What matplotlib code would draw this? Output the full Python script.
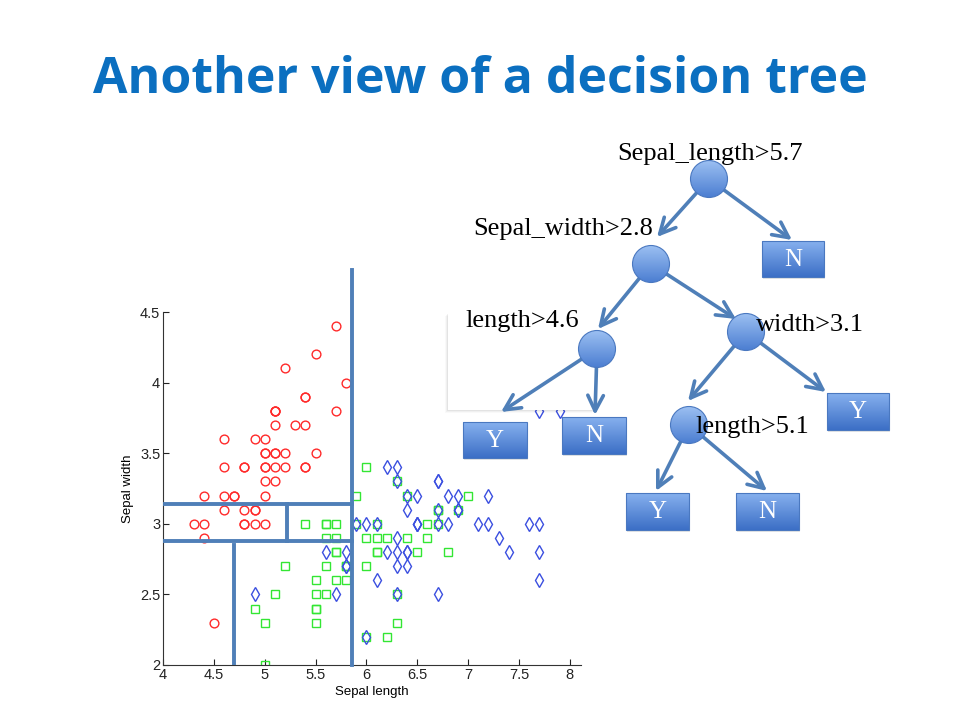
import numpy as np
from matplotlib import pyplot as plt
from matplotlib.patches import Circle, Rectangle
from matplotlib.colors import LinearSegmentedColormap

# iris data: sepal length / sepal width
setosa_len = [5.1,4.9,4.7,4.6,5.0,5.4,4.6,5.0,4.4,4.9,5.4,4.8,4.8,4.3,5.8,5.7,5.4,5.1,5.7,5.1,
              5.4,5.1,4.6,5.1,4.8,5.0,5.0,5.2,5.2,4.7,4.8,5.4,5.2,5.5,4.9,5.0,5.5,4.9,4.4,5.1,
              5.0,4.5,4.4,5.0,5.1,4.8,5.1,4.6,5.3,5.0]
setosa_wid = [3.5,3.0,3.2,3.1,3.6,3.9,3.4,3.4,2.9,3.1,3.7,3.4,3.0,3.0,4.0,4.4,3.9,3.5,3.8,3.8,
              3.4,3.7,3.6,3.3,3.4,3.0,3.4,3.5,3.4,3.2,3.1,3.4,4.1,4.2,3.1,3.2,3.5,3.6,3.0,3.4,
              3.5,2.3,3.2,3.5,3.8,3.0,3.8,3.2,3.7,3.3]
versi_len = [7.0,6.4,6.9,5.5,6.5,5.7,6.3,4.9,6.6,5.2,5.0,5.9,6.0,6.1,5.6,6.7,5.6,5.8,6.2,5.6,
             5.9,6.1,6.3,6.1,6.4,6.6,6.8,6.7,6.0,5.7,5.5,5.5,5.8,6.0,5.4,6.0,6.7,6.3,5.6,5.5,
             5.5,6.1,5.8,5.0,5.6,5.7,5.7,6.2,5.1,5.7]
versi_wid = [3.2,3.2,3.1,2.3,2.8,2.8,3.3,2.4,2.9,2.7,2.0,3.0,2.2,2.9,2.9,3.1,3.0,2.7,2.2,2.5,
             3.2,2.8,2.5,2.8,2.9,3.0,2.8,3.0,2.9,2.6,2.4,2.4,2.7,2.7,3.0,3.4,3.1,2.3,3.0,2.5,
             2.6,3.0,2.6,2.3,2.7,3.0,2.9,2.9,2.5,2.8]
virg_len = [6.3,5.8,7.1,6.3,6.5,7.6,4.9,7.3,6.7,7.2,6.5,6.4,6.8,5.7,5.8,6.4,6.5,7.7,7.7,6.0,
            6.9,5.6,7.7,6.3,6.7,7.2,6.2,6.1,6.4,7.2,7.4,7.9,6.4,6.3,6.1,7.7,6.3,6.4,6.0,6.9,
            6.7,6.9,5.8,6.8,6.7,6.7,6.3,6.5,6.2,5.9]
virg_wid = [3.3,2.7,3.0,2.9,3.0,3.0,2.5,2.9,2.5,3.6,3.2,2.7,3.0,2.5,2.8,3.2,3.0,3.8,2.6,2.2,
            3.2,2.8,2.8,2.7,3.3,3.2,2.8,3.0,2.8,3.0,2.8,3.8,2.8,2.8,2.6,3.0,3.4,3.1,3.0,3.1,
            3.1,3.1,2.7,3.2,3.3,3.0,2.5,3.0,3.4,3.0]

# split lines drawn over the scatter
split_len = 5.86      # vertical, full height
split_wid_lo = 2.88   # horizontal, left part
split_wid_hi = 3.14
split_len_mid = 5.22
split_len_lo = 4.70

x_ticks = [4, 4.5, 5, 5.5, 6, 6.5, 7, 7.5, 8]
y_ticks = [2, 2.5, 3, 3.5, 4, 4.5]
x_tick_labels = ['4', '4.5', '5', '5.5', '6', '6.5', '7', '7.5', '8']
y_tick_labels = ['2', '2.5', '3', '3.5', '4', '4.5']

# tree (slide layout, pixel coords)
node_xy = [(709, 179), (651, 264), (597, 349), (746, 332), (689, 425)]
node_text = ['Sepal_length>5.7', 'Sepal_width>2.8', 'length>4.6', 'width>3.1', 'length>5.1']
node_text_xy = [(710, 154), (563, 229), (522, 321), (810, 325), (752, 427)]
leaf_text = ['N', 'Y', 'N', 'Y', 'Y', 'N']
leaf_box = [(762, 241, 824, 277), (463, 422, 527, 458), (562, 417, 626, 454),
            (827, 393, 889, 430), (626, 493, 689, 530), (736, 493, 799, 530)]
arrows = [((709, 179), (657, 237)), ((709, 179), (792, 240)),
          ((651, 264), (598, 329)), ((651, 264), (736, 319)),
          ((597, 349), (501, 412)), ((597, 349), (595, 415)),
          ((746, 332), (688, 401)), ((746, 332), (826, 392)),
          ((689, 425), (656, 491)), ((689, 425), (767, 491))]

line_c = '#4f7fb8'
plt.close('all')
fig = plt.figure(figsize=(9.6, 7.2), dpi=100)

#%% scatter
ax = fig.add_axes([163/960, 1-665/720, 418/960, 353/720])
ax.plot(setosa_len, setosa_wid, 'o', mfc='none', mec='#ff2a2a', ms=6.3, mew=1.0)
ax.plot(versi_len, versi_wid, 's', mfc='none', mec='#33e633', ms=5.8, mew=1.0)
ax.plot(virg_len, virg_wid, 'd', mfc='none', mec='#3b4fe0', ms=7, mew=1.0)

ax.plot([split_len, split_len], [2, 4.8], color=line_c, lw=2.8, clip_on=False, zorder=5)
ax.plot([4.02, split_len], [split_wid_lo, split_wid_lo], color=line_c, lw=2.8, zorder=5)
ax.plot([4.02, split_len], [split_wid_hi, split_wid_hi], color=line_c, lw=2.8, zorder=5)
ax.plot([split_len_mid, split_len_mid], [split_wid_lo, split_wid_hi], color=line_c, lw=2.8, zorder=5)
ax.plot([split_len_lo, split_len_lo], [2, split_wid_lo - 0.03], color=line_c, lw=2.8, zorder=5)

ax.set_xlim(4, 8.11); ax.set_ylim(2, 4.5)
ax.set_xticks(x_ticks); ax.set_xticklabels(x_tick_labels)
ax.set_yticks(y_ticks); ax.set_yticklabels(y_tick_labels)
ax.tick_params(direction='in', length=4, width=0.8, labelsize=10.5, pad=2, colors='#222222')
for s in ['top', 'right']:
    ax.spines[s].set_visible(False)
for s in ['left', 'bottom']:
    ax.spines[s].set_color('#333333')
ax.set_xlabel('Sepal length', fontsize=9.5, labelpad=3)
ax.set_ylabel('Sepal width', fontsize=9.5, labelpad=4)
for t in ax.get_xticklabels() + ax.get_yticklabels() + [ax.xaxis.label, ax.yaxis.label]:
    t.set_family('Liberation Sans')

#%% slide overlay in pixels
ov = fig.add_axes([0, 0, 1, 1])
ov.set_xlim(0, 960); ov.set_ylim(720, 0)
ov.axis('off')
ov.patch.set_alpha(0)

fig.text(0.5, 1-80/720, 'Another view of a decision tree', ha='center', va='center',
         fontsize=36, fontweight='bold', color='#0b6fc0', family='Open Sans')

# white box with soft shadow
bx0, by0, bx1, by1 = 448, 313, 595, 410
for k, a in enumerate([0.025, 0.035, 0.05]):
    d = 3 - k
    ov.add_patch(Rectangle((bx0 - d, by0 + d), bx1 - bx0, by1 - by0, fc='#000000',
                           ec='none', alpha=a, zorder=1))
ov.add_patch(Rectangle((bx0, by0), bx1 - bx0, by1 - by0, fc='white', ec='none', zorder=2))

grad = np.linspace(0, 1, 64).reshape(-1, 1)
cmap_node = LinearSegmentedColormap.from_list('node', ['#9cc0f2', '#4d7fd2'])
cmap_leaf = LinearSegmentedColormap.from_list('leaf', ['#86b0ee', '#3c6fc6'])

for (p, q) in arrows:
    ov.annotate('', xy=q, xytext=p,
                arrowprops=dict(arrowstyle='->', lw=2.6, color=line_c,
                                mutation_scale=28, shrinkA=0, shrinkB=0), zorder=3)

r = 18.5
for (cx, cy) in node_xy:
    c = Circle((cx, cy), r, fc='none', ec='#4a78c0', lw=0.8, zorder=6)
    ov.add_patch(c)
    im = ov.imshow(grad, cmap=cmap_node, extent=[cx - r, cx + r, cy + r, cy - r],
                   aspect='auto', zorder=5, interpolation='bilinear')
    im.set_clip_path(c)

for lab, (x0, y0, x1, y1) in zip(leaf_text, leaf_box):
    ov.add_patch(Rectangle((x0 + 1, y0 + 2), x1 - x0, y1 - y0, fc='#000000',
                           ec='none', alpha=0.10, zorder=4))
    rc = Rectangle((x0, y0), x1 - x0, y1 - y0, fc='none', ec='#4a78c0', lw=0.8, zorder=6)
    ov.add_patch(rc)
    im = ov.imshow(grad, cmap=cmap_leaf, extent=[x0, x1, y1, y0],
                   aspect='auto', zorder=5, interpolation='bilinear')
    im.set_clip_path(rc)
    ov.text((x0 + x1) / 2, (y0 + y1) / 2 + 1, lab, ha='center', va='center',
            fontsize=18, color='white', family='Liberation Serif', zorder=7)

for txt, (tx, ty) in zip(node_text, node_text_xy):
    ov.text(tx, ty, txt, ha='center', va='center', fontsize=19,
            color='black', family='Liberation Serif', zorder=8)

ov.set_xlim(0, 960); ov.set_ylim(720, 0)

fig.savefig('out.png', dpi=100)
